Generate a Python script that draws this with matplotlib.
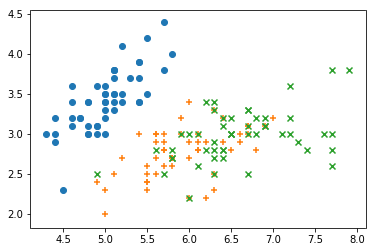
import numpy as np
import matplotlib
matplotlib.use("Agg")
from matplotlib import pyplot as plt

# sepal length / sepal width per species
setosa_x = [5.1, 4.9, 4.7, 4.6, 5.0, 5.4, 4.6, 5.0, 4.4, 4.9, 5.4, 4.8, 4.8, 4.3, 5.8, 5.7, 5.4, 5.1, 5.7, 5.1,
            5.4, 5.1, 4.6, 5.1, 4.8, 5.0, 5.0, 5.2, 5.2, 4.7, 4.8, 5.4, 5.2, 5.5, 4.9, 5.0, 5.5, 4.9, 4.4, 5.1,
            5.0, 4.5, 4.4, 5.0, 5.1, 4.8, 5.1, 4.6, 5.3, 5.0]
setosa_y = [3.5, 3.0, 3.2, 3.1, 3.6, 3.9, 3.4, 3.4, 2.9, 3.1, 3.7, 3.4, 3.0, 3.0, 4.0, 4.4, 3.9, 3.5, 3.8, 3.8,
            3.4, 3.7, 3.6, 3.3, 3.4, 3.0, 3.4, 3.5, 3.4, 3.2, 3.1, 3.4, 4.1, 4.2, 3.1, 3.2, 3.5, 3.6, 3.0, 3.4,
            3.5, 2.3, 3.2, 3.5, 3.8, 3.0, 3.8, 3.2, 3.7, 3.3]

versicolor_x = [7.0, 6.4, 6.9, 5.5, 6.5, 5.7, 6.3, 4.9, 6.6, 5.2, 5.0, 5.9, 6.0, 6.1, 5.6, 6.7, 5.6, 5.8, 6.2, 5.6,
                5.9, 6.1, 6.3, 6.1, 6.4, 6.6, 6.8, 6.7, 6.0, 5.7, 5.5, 5.5, 5.8, 6.0, 5.4, 6.0, 6.7, 6.3, 5.6, 5.5,
                5.5, 6.1, 5.8, 5.0, 5.6, 5.7, 5.7, 6.2, 5.1, 5.7]
versicolor_y = [3.2, 3.2, 3.1, 2.3, 2.8, 2.8, 3.3, 2.4, 2.9, 2.7, 2.0, 3.0, 2.2, 2.9, 2.9, 3.1, 3.0, 2.7, 2.2, 2.5,
                3.2, 2.8, 2.5, 2.8, 2.9, 3.0, 2.8, 3.0, 2.9, 2.6, 2.4, 2.4, 2.7, 2.7, 3.0, 3.4, 3.1, 2.3, 3.0, 2.5,
                2.6, 3.0, 2.6, 2.3, 2.7, 3.0, 2.9, 2.9, 2.5, 2.8]

virginica_x = [6.3, 5.8, 7.1, 6.3, 6.5, 7.6, 4.9, 7.3, 6.7, 7.2, 6.5, 6.4, 6.8, 5.7, 5.8, 6.4, 6.5, 7.7, 7.7, 6.0,
               6.9, 5.6, 7.7, 6.3, 6.7, 7.2, 6.2, 6.1, 6.4, 7.2, 7.4, 7.9, 6.4, 6.3, 6.1, 7.7, 6.3, 6.4, 6.0, 6.9,
               6.7, 6.9, 5.8, 6.8, 6.7, 6.7, 6.3, 6.5, 6.2, 5.9]
virginica_y = [3.3, 2.7, 3.0, 2.9, 3.0, 3.0, 2.5, 2.9, 2.5, 3.6, 3.2, 2.7, 3.0, 2.5, 2.8, 3.2, 3.0, 3.8, 2.6, 2.2,
               3.2, 2.8, 2.8, 2.7, 3.3, 3.2, 2.8, 3.0, 2.8, 3.0, 2.8, 3.8, 2.8, 2.8, 2.6, 3.0, 3.4, 3.1, 3.0, 3.1,
               3.1, 3.1, 2.7, 3.2, 3.3, 3.0, 2.5, 3.0, 3.4, 3.0]

fig = plt.figure(figsize=(375 / 72, 252 / 72), dpi=72)
fig.subplots_adjust(left=30.5 / 375, right=365.5 / 375, top=1 - 10 / 252, bottom=1 - 228 / 252)
ax = fig.add_subplot(111)

ax.scatter(setosa_x, setosa_y, marker="o")
ax.scatter(versicolor_x, versicolor_y, marker="+")
ax.scatter(virginica_x, virginica_y, marker="x")

ax.set_xlim(4.11, 8.10)
ax.set_ylim(1.83, 4.545)

fig.savefig("out.png", dpi=72)
